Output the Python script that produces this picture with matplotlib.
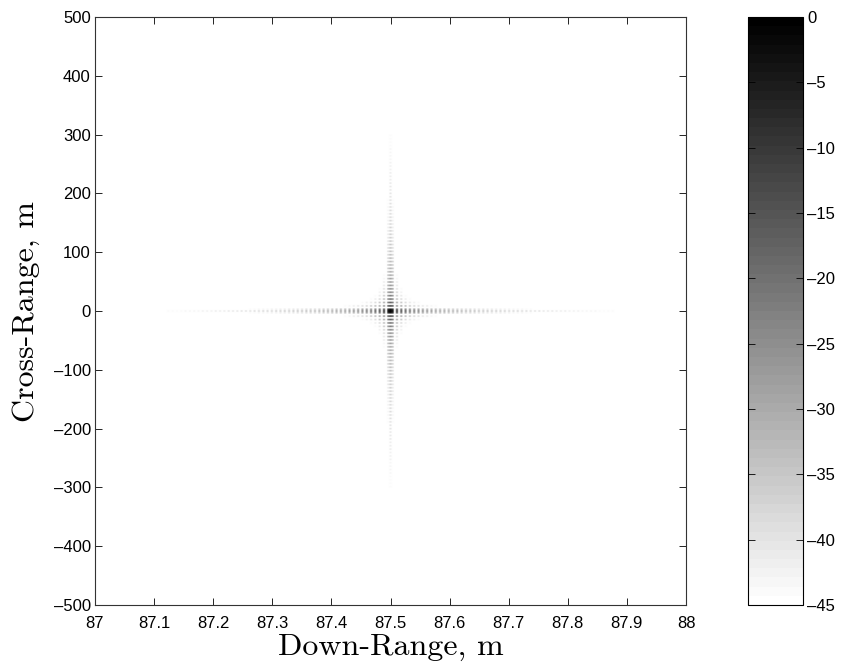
import numpy as np
import matplotlib
matplotlib.use("Agg")
import matplotlib.pyplot as plt
from matplotlib.colors import ListedColormap

# ---- data / parameters ----
target_range = [87.5]          # m, down-range position of point target
target_cross = [0.0]           # m, cross-range position
range_res = [0.0073]           # m, down-range lobe spacing
cross_res = [5.8]              # m, cross-range lobe spacing
clip_db = [-45.0]              # dB floor
x_lim = [87.0, 88.0]
y_lim = [-500.0, 500.0]
x_ticks = [87.0, 87.1, 87.2, 87.3, 87.4, 87.5, 87.6, 87.7, 87.8, 87.9, 88.0]
x_ticklabels = ["87", "87.1", "87.2", "87.3", "87.4", "87.5", "87.6", "87.7", "87.8", "87.9", "88"]
y_ticks = [-500, -400, -300, -200, -100, 0, 100, 200, 300, 400, 500]
cbar_ticks = [0, -5, -10, -15, -20, -25, -30, -35, -40, -45]
n_levels = 64

# ---- build image (point-target response in dB, sampled at half-lobe spacing) ----
sx = range_res[0] / 2
sy = cross_res[0] / 2
kx = np.arange(-int(0.5 / sx) - 1, int(0.5 / sx) + 2)
ky = np.arange(-int(500 / sy) - 1, int(500 / sy) + 2)
x = target_range[0] + kx * sx
y = target_cross[0] + ky * sy
X, Y = np.meshgrid(x, y)
eps = 1e-12
img = (20 * np.log10(np.abs(np.sinc((X - target_range[0]) / range_res[0])) + eps)
       + 20 * np.log10(np.abs(np.sinc((Y - target_cross[0]) / cross_res[0])) + eps))
img = np.clip(img, clip_db[0], 0)

g = np.linspace(1, 0, n_levels)
cmap = ListedColormap(np.column_stack([g, g, g]))

fig = plt.figure(figsize=(8.44, 6.67), dpi=100)
ax = fig.add_axes([95/844, 1-605/667, (686-95)/844, (605-17)/667])
im = ax.imshow(img, extent=[x[0] - sx/2, x[-1] + sx/2, y[0] - sy/2, y[-1] + sy/2],
               origin="lower", aspect="auto", cmap=cmap, vmin=clip_db[0], vmax=0,
               interpolation="antialiased", interpolation_stage="rgba")
ax.set_xlim(x_lim)
ax.set_ylim(y_lim)
ax.set_xticks(x_ticks)
ax.set_xticklabels(x_ticklabels)
ax.set_yticks(y_ticks)
ax.set_yticklabels([str(v).replace("-", "\u2013") for v in y_ticks])
ax.tick_params(axis="x", direction="in", top=True, length=5, width=0.6,
               labelsize=12, pad=8)
ax.tick_params(axis="y", direction="in", right=True, length=5, width=0.6,
               labelsize=12, pad=3)
for lab in ax.get_xticklabels() + ax.get_yticklabels():
    lab.set_fontfamily("Liberation Sans")
for s in ax.spines.values():
    s.set_linewidth(0.8)
    s.set_color("#333333")

ax.set_xlabel("Down-Range, m", fontfamily="cmr10", fontsize=23, labelpad=2)
ax.set_ylabel("Cross-Range, m", fontfamily="cmr10", fontsize=23, labelpad=10)

cax = fig.add_axes([748/844, 1-605/667, (803-748)/844, (605-17)/667])
cb = fig.colorbar(im, cax=cax)
cb.set_ticks(cbar_ticks)
cb.set_ticklabels([str(v).replace("-", "\u2013") for v in cbar_ticks])
cax.tick_params(direction="in", left=True, right=True, length=5, width=0.6,
                labelsize=12, pad=3)
for lab in cax.get_yticklabels():
    lab.set_fontfamily("Liberation Sans")
cb.outline.set_linewidth(0.8)

fig.savefig("out.png", dpi=100)
